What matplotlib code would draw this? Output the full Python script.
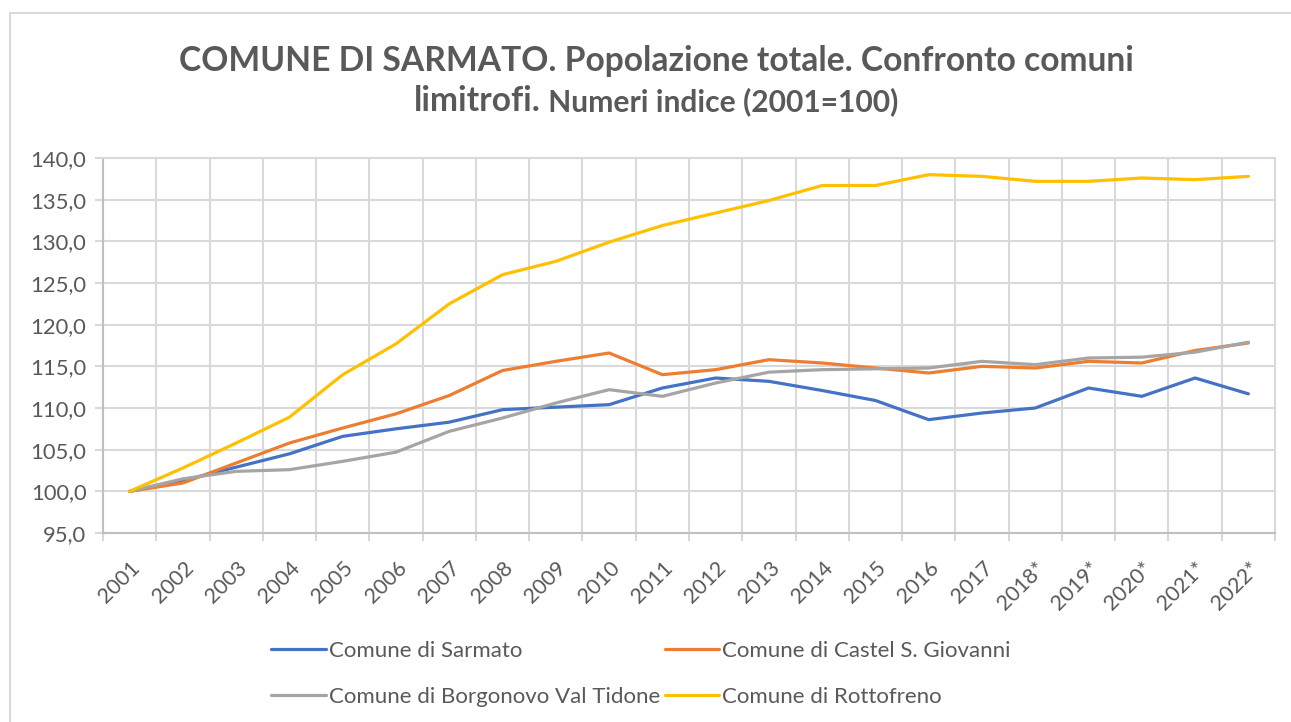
import matplotlib
matplotlib.use('Agg')
from matplotlib import pyplot, patches, ticker

years = ['2001', '2002', '2003', '2004', '2005', '2006', '2007', '2008', '2009', '2010', '2011',
         '2012', '2013', '2014', '2015', '2016', '2017', '2018*', '2019*', '2020*', '2021*', '2022*']

sarmato = [100.0, 101.3, 102.9, 104.5, 106.6, 107.5, 108.3, 109.8, 110.1, 110.4, 112.4,
           113.6, 113.2, 112.1, 110.9, 108.6, 109.4, 110.0, 112.4, 111.4, 113.6, 111.7]
castel = [100.0, 101.0, 103.4, 105.8, 107.6, 109.3, 111.5, 114.5, 115.6, 116.6, 114.0,
          114.6, 115.8, 115.4, 114.8, 114.2, 115.0, 114.8, 115.6, 115.4, 116.9, 117.8]
borgonovo = [100.0, 101.5, 102.4, 102.6, 103.6, 104.7, 107.2, 108.8, 110.6, 112.2, 111.4,
             113.0, 114.3, 114.6, 114.7, 114.8, 115.6, 115.2, 116.0, 116.1, 116.7, 117.9]
rottofreno = [100.0, 102.8, 105.8, 108.9, 114.0, 117.7, 122.5, 126.0, 127.6, 129.9, 131.9,
              133.4, 134.9, 136.7, 136.7, 138.0, 137.8, 137.2, 137.2, 137.6, 137.4, 137.8]

series_names = ['Comune di Sarmato', 'Comune di Castel S. Giovanni',
                'Comune di Borgonovo Val Tidone', 'Comune di Rottofreno']
series_colors = ['#4472C4', '#ED7D31', '#A5A5A5', '#FFC000']

text_color = '#595959'
grid_color = '#D9D9D9'
pyplot.rcParams['font.family'] = ['Lato', 'DejaVu Sans']

W, H = 1291, 722
figure = pyplot.figure(figsize=(W / 100, H / 100), dpi=100)

# chart area border (cropped on the right and bottom)
border = patches.Rectangle((10 / W, -0.1), 1.2, 1.1 - 13 / H, transform=figure.transFigure,
                           fill=False, edgecolor=grid_color, linewidth=1.5, figure=figure)
figure.patches.append(border)

ax = figure.add_axes([103 / W, 1 - 533 / H, (1275 - 103) / W, (533 - 158) / H])

x = list(range(len(years)))
lines = []
for values, name, color in zip([sarmato, castel, borgonovo, rottofreno], series_names, series_colors):
    line, = ax.plot(x, values, color=color, linewidth=2.3, label=name, solid_capstyle='round', zorder=3)
    lines.append(line)

ax.set_xlim(-0.5, len(years) - 0.5)
ax.set_ylim(95, 140)
ax.yaxis.set_major_locator(ticker.MultipleLocator(5))
ax.yaxis.set_major_formatter(ticker.FuncFormatter(lambda v, pos: ('%.1f' % v).replace('.', ',')))
ax.set_xticks(x)
ax.set_xticklabels([])
ax.set_xticks([i - 0.5 for i in range(len(years) + 1)], minor=True)

# rotated year labels, ending just right of each category like Excel
for i, year in zip(x, years):
    ax.annotate(year, xy=(i, 95), xycoords='data', xytext=(0.3, -18), textcoords='offset points',
                rotation=45, ha='right', va='top', rotation_mode='anchor',
                fontsize=15.5, color=text_color, annotation_clip=False)

ax.grid(axis='y', which='major', color=grid_color, linewidth=1.5)
ax.grid(axis='x', which='minor', color=grid_color, linewidth=1.5)
ax.set_axisbelow(True)

ax.tick_params(axis='x', which='major', length=0)
ax.tick_params(axis='x', which='minor', length=6, width=1.5, color=grid_color)
ax.tick_params(axis='y', length=6, width=1.5, color=grid_color, pad=6, labelsize=15.8, labelcolor=text_color)

for side in ['top', 'right']:
    ax.spines[side].set_color(grid_color)
    ax.spines[side].set_linewidth(1.5)
for side in ['left', 'bottom']:
    ax.spines[side].set_color('#BFBFBF')
    ax.spines[side].set_linewidth(1.5)

# title: two lines, the second one mixes two sizes
title_x = 656.5 / W
figure.text(title_x, 1 - 71 / H, 'COMUNE DI SARMATO. Popolazione totale. Confronto comuni',
            ha='center', va='baseline', fontsize=24.2, fontweight='bold', color=text_color)
part1 = figure.text(0, 1 - 111 / H, 'limitrofi.', ha='left', va='baseline',
                    fontsize=24.2, fontweight='bold', color=text_color)
part2 = figure.text(0, 1 - 111 / H, ' Numeri indice (2001=100)', ha='left', va='baseline',
                    fontsize=21.6, fontweight='bold', color=text_color)
figure.canvas.draw()
renderer = figure.canvas.get_renderer()
w1 = part1.get_window_extent(renderer).width / W
w2 = part2.get_window_extent(renderer).width / W
start = title_x - (w1 + w2) / 2
part1.set_x(start)
part2.set_x(start + w1)

legend_order = [0, 2, 1, 3]
figure.legend([lines[i] for i in legend_order], [series_names[i] for i in legend_order],
              ncol=2, loc='center', bbox_to_anchor=(641 / W, 1 - 674 / H), frameon=False,
              fontsize=16, labelcolor=text_color, handlelength=2.45, handletextpad=0.15,
              columnspacing=0.2, labelspacing=1.15, borderpad=0)

figure.savefig('out.png', dpi=100)
pyplot.close(figure)
